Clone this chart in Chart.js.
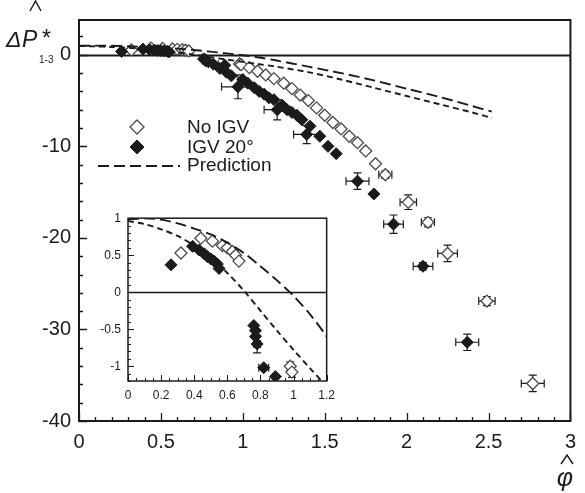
<!DOCTYPE html>
<html>
<head>
<meta charset="utf-8">
<script src="https://cdn.jsdelivr.net/npm/chart.js@4.4.0/dist/chart.umd.min.js"></script>
<style>
  html, body { margin: 0; padding: 0; background: #fff; }
  #wrap { position: relative; width: 585px; height: 493px; }
  #main { position: absolute; left: 0; top: 0; }
  #inset { position: absolute; left: 96px; top: 204px; }
</style>
</head>
<body>
<div id="wrap">
  <canvas id="main" width="585" height="493"></canvas>
  <canvas id="inset" width="246" height="200"></canvas>
</div>
<script>
// No IGV (open diamonds)
const noIgvX = [0.32, 0.44, 0.51, 0.57, 0.60, 0.63, 0.65, 0.67, 0.98, 0.99, 1.04, 1.09, 1.14, 1.19, 1.25, 1.30,
    1.35, 1.40, 1.45, 1.50, 1.55, 1.60, 1.65, 1.70, 1.75, 1.81, 1.87, 2.01, 2.13, 2.25, 2.49, 2.77];
const noIgvY = [0.53, 0.73, 0.69, 0.63, 0.60, 0.55, 0.50, 0.42, -1.00, -1.08, -1.4, -1.8, -2.2, -2.6, -3.1, -3.7,
    -4.4, -5.0, -5.8, -6.6, -7.4, -8.1, -8.9, -9.6, -10.5, -11.9, -13.1, -16.1, -18.3, -21.7, -26.9, -35.9];
const noIgvXErr = [0, 0, 0, 0, 0, 0, 0, 0, 0, 0, 0, 0, 0, 0, 0, 0,
    0, 0, 0, 0, 0, 0, 0, 0, 0, 0, 0.04, 0.05, 0.04, 0.06, 0.05, 0.07];
const noIgvYErr = [0, 0, 0, 0, 0, 0, 0, 0, 0.06, 0.07, 0, 0, 0, 0, 0, 0,
    0, 0, 0, 0, 0, 0, 0, 0, 0, 0, 0.4, 0.8, 0.5, 0.9, 0.5, 0.9];

// IGV 20° (filled diamonds)
const igvX = [0.26, 0.39, 0.43, 0.46, 0.48, 0.50, 0.52, 0.54, 0.55, 0.76, 0.77, 0.77, 0.78, 0.82, 0.89,
    0.86, 0.90, 0.93, 0.97, 1.00, 1.03, 1.07, 1.10, 1.13, 1.16, 1.19, 1.21, 1.24, 1.27, 1.30, 1.33, 1.36,
    1.39, 1.41, 1.47, 1.52, 1.57, 1.70, 1.80, 1.92, 2.10, 2.37];
const igvY = [0.37, 0.62, 0.57, 0.52, 0.48, 0.45, 0.42, 0.38, 0.32, -0.45, -0.52, -0.60, -0.70, -1.02, -1.14,
    -1.5, -1.9, -2.3, -3.5, -2.7, -3.1, -3.6, -4.0, -4.3, -4.7, -4.9, -6.0, -5.5, -6.0, -6.3, -6.6, -7.1,
    -8.7, -7.8, -8.9, -10.0, -10.8, -13.8, -15.2, -18.5, -23.1, -31.4];
const igvXErr = [0, 0, 0, 0, 0, 0, 0, 0, 0, 0, 0, 0, 0.02, 0.03, 0,
    0, 0, 0, 0.10, 0, 0, 0, 0, 0, 0, 0, 0.08, 0, 0, 0, 0, 0,
    0.08, 0, 0, 0, 0, 0.07, 0, 0.06, 0.06, 0.07];
const igvYErr = [0, 0, 0, 0, 0, 0, 0, 0, 0, 0, 0, 0, 0.12, 0, 0,
    0, 0, 0, 1.3, 0, 0, 0, 0, 0, 0, 0, 1.1, 0, 0, 0, 0, 0,
    1.0, 0, 0, 0, 0, 0.9, 0, 1.0, 0.4, 0.9];

// prediction curves
const predX = [0, 0.1, 0.2, 0.3, 0.4, 0.5, 0.6, 0.7, 0.8, 0.9, 1.0, 1.1, 1.2, 1.4, 1.6, 1.8, 2.0, 2.2, 2.4, 2.52];
const predLongY = [0.98, 1.0, 0.98, 0.93, 0.86, 0.78, 0.67, 0.53, 0.35, 0.16, -0.05, -0.3, -0.6,
    -1.3, -2.0, -2.8, -3.7, -4.6, -5.6, -6.2];
const predShortY = [0.96, 0.92, 0.85, 0.76, 0.63, 0.47, 0.26, 0.02, -0.25, -0.52, -0.78, -1.03, -1.28,
    -1.9, -2.7, -3.6, -4.5, -5.4, -6.3, -6.9];

const mainXTicks = [0, 0.5, 1, 1.5, 2, 2.5, 3];
const mainYTicks = [0, -10, -20, -30, -40];
const insetXTicks = [0, 0.2, 0.4, 0.6, 0.8, 1, 1.2];
const insetYTicks = [1, 0.5, 0, -0.5, -1];

const INK = '#1b1b1b';
const FONT = '"Liberation Sans", Arial, sans-serif';

const toPoints = (xs, ys) => xs.map((x, i) => ({ x, y: ys[i] }));

function buildDatasets(radius) {
    return [
        {
            label: 'Prediction',
            type: 'line',
            data: toPoints(predX, predLongY),
            borderColor: INK,
            borderWidth: 1.9,
            borderDash: [11, 5],
            pointRadius: 0,
            tension: 0.3,
        },
        {
            label: 'Prediction',
            type: 'line',
            data: toPoints(predX, predShortY),
            borderColor: INK,
            borderWidth: 1.9,
            borderDash: [6, 4],
            pointRadius: 0,
            tension: 0.3,
        },
        {
            label: 'IGV 20°',
            data: toPoints(igvX, igvY),
            xErr: igvXErr,
            yErr: igvYErr,
            pointStyle: 'rectRot',
            pointRadius: radius,
            backgroundColor: INK,
            borderColor: INK,
            borderWidth: 1,
        },
        {
            label: 'No IGV',
            data: toPoints(noIgvX, noIgvY),
            xErr: noIgvXErr,
            yErr: noIgvYErr,
            pointStyle: 'rectRot',
            pointRadius: radius,
            backgroundColor: '#fff',
            borderColor: '#4a4a4a',
            borderWidth: 1.3,
        },
    ];
}

function stepsBetween(min, max, step) {
    const out = [];
    const first = Math.ceil(min / step - 1e-9);
    const last = Math.floor(max / step + 1e-9);
    for (let k = first; k <= last; k++) out.push(k * step);
    return out;
}

const isOn = (list, v) => list.some(t => Math.abs(t - v) < 1e-6);

// error bars with caps, under the markers
const errorBars = {
    id: 'errorBars',
    beforeDatasetsDraw(chart) {
        const { ctx, chartArea: a, scales: { x, y } } = chart;
        ctx.save();
        ctx.beginPath();
        ctx.rect(a.left, a.top, a.width, a.height);
        ctx.clip();
        ctx.strokeStyle = INK;
        ctx.lineWidth = 1.2;
        chart.data.datasets.forEach(ds => {
            if (!ds.xErr) return;
            ds.data.forEach((p, i) => {
                const cx = x.getPixelForValue(p.x);
                const cy = y.getPixelForValue(p.y);
                const ex = ds.xErr[i];
                const ey = ds.yErr[i];
                ctx.beginPath();
                if (ex) {
                    const l = x.getPixelForValue(p.x - ex);
                    const r = x.getPixelForValue(p.x + ex);
                    ctx.moveTo(l, cy); ctx.lineTo(r, cy);
                    ctx.moveTo(l, cy - 4); ctx.lineTo(l, cy + 4);
                    ctx.moveTo(r, cy - 4); ctx.lineTo(r, cy + 4);
                }
                if (ey) {
                    const t = y.getPixelForValue(p.y + ey);
                    const b = y.getPixelForValue(p.y - ey);
                    ctx.moveTo(cx, t); ctx.lineTo(cx, b);
                    ctx.moveTo(cx - 4, t); ctx.lineTo(cx + 4, t);
                    ctx.moveTo(cx - 4, b); ctx.lineTo(cx + 4, b);
                }
                ctx.stroke();
            });
        });
        ctx.restore();
    },
};

// box, zero line and inward ticks
const frame = {
    id: 'frame',
    beforeDraw(chart, args, opts) {
        if (!opts.fill) return;
        const { ctx, width, height } = chart;
        ctx.save();
        ctx.fillStyle = opts.fill;
        ctx.fillRect(0, 0, width, height);
        ctx.restore();
    },
    beforeDatasetsDraw(chart, args, opts) {
        const { ctx, chartArea: a, scales: { y } } = chart;
        const y0 = Math.round(y.getPixelForValue(0)) + 0.5;
        ctx.save();
        ctx.strokeStyle = INK;
        ctx.lineWidth = opts.zeroWidth;
        ctx.beginPath();
        ctx.moveTo(a.left, y0);
        ctx.lineTo(a.right, y0);
        ctx.stroke();
        ctx.restore();
    },
    afterDatasetsDraw(chart, args, opts) {
        const { ctx, chartArea: a, scales: { x, y } } = chart;
        ctx.save();
        ctx.strokeStyle = INK;
        ctx.lineWidth = opts.tickWidth;
        ctx.beginPath();
        stepsBetween(x.min, x.max, opts.xMinor).forEach(v => {
            const px = Math.round(x.getPixelForValue(v)) + 0.5;
            const len = isOn(opts.xMajor, v) ? opts.major : opts.minor;
            ctx.moveTo(px, a.bottom);
            ctx.lineTo(px, a.bottom - len);
        });
        stepsBetween(y.min, y.max, opts.yMinor).forEach(v => {
            const py = Math.round(y.getPixelForValue(v)) + 0.5;
            const len = isOn(opts.yMajor, v) ? opts.major : opts.minor;
            ctx.moveTo(a.left, py);
            ctx.lineTo(a.left + len, py);
        });
        ctx.stroke();
        ctx.lineWidth = opts.boxWidth;
        ctx.strokeRect(a.left, a.top, a.right - a.left, a.bottom - a.top);
        ctx.restore();
    },
};

function hat(ctx, cx, top, half, h) {
    ctx.beginPath();
    ctx.moveTo(cx - half, top + h);
    ctx.lineTo(cx, top);
    ctx.lineTo(cx + half, top + h);
    ctx.stroke();
}

// axis titles and the legend box
const annotations = {
    id: 'annotations',
    afterDraw(chart) {
        const { ctx } = chart;
        const sets = chart.data.datasets;
        ctx.save();
        ctx.fillStyle = INK;
        ctx.strokeStyle = INK;
        ctx.lineWidth = 1.4;
        ctx.textBaseline = 'alphabetic';

        ctx.font = `italic 23px ${FONT}`;
        ctx.fillText('Δ', 6, 47);
        ctx.fillText('P', 22, 47);
        ctx.font = `23px ${FONT}`;
        ctx.fillText('*', 42, 46);
        ctx.font = `10px ${FONT}`;
        ctx.fillText('1-3', 39, 63);
        hat(ctx, 35.5, 1, 5.5, 10);

        ctx.font = `italic 25px ${FONT}`;
        ctx.textAlign = 'center';
        ctx.fillText('φ', 565, 486);
        hat(ctx, 567, 455, 6, 9);

        // legend
        ctx.textAlign = 'left';
        ctx.textBaseline = 'middle';
        ctx.font = `19px ${FONT}`;
        const rows = [
            { ds: sets[3], y: 127 },
            { ds: sets[2], y: 147 },
        ];
        rows.forEach(r => {
            const cx = 137;
            const s = 7;
            ctx.beginPath();
            ctx.moveTo(cx, r.y - s);
            ctx.lineTo(cx + s, r.y);
            ctx.lineTo(cx, r.y + s);
            ctx.lineTo(cx - s, r.y);
            ctx.closePath();
            ctx.fillStyle = r.ds.backgroundColor;
            ctx.fill();
            ctx.strokeStyle = r.ds.borderColor;
            ctx.lineWidth = r.ds.borderWidth;
            ctx.stroke();
            ctx.fillStyle = INK;
            ctx.fillText(r.ds.label, 187, r.y + 1);
        });
        ctx.strokeStyle = INK;
        ctx.lineWidth = 1.9;
        ctx.setLineDash([11, 5]);
        ctx.beginPath();
        ctx.moveTo(98, 166);
        ctx.lineTo(180, 166);
        ctx.stroke();
        ctx.setLineDash([]);
        ctx.fillText(sets[0].label, 187, 166);
        ctx.restore();
    },
};

function axis(min, max, tickList, size, padding, fit) {
    return {
        type: 'linear',
        min,
        max,
        grid: { display: false, drawTicks: false },
        border: { display: false },
        ticks: {
            color: INK,
            font: { family: FONT, size },
            padding,
            callback: v => String(v),
        },
        afterBuildTicks: s => { s.ticks = tickList.map(value => ({ value })); },
        afterFit: fit,
    };
}

const common = {
    responsive: false,
    animation: false,
    devicePixelRatio: 1,
    events: [],
    plugins: { legend: { display: false }, tooltip: { enabled: false } },
};

new Chart(document.getElementById('main'), {
    type: 'scatter',
    data: { datasets: buildDatasets(6) },
    plugins: [frame, errorBars, annotations],
    options: {
        ...common,
        layout: { padding: { top: 18, right: 7, left: 0, bottom: 0 } },
        scales: {
            x: axis(0, 3, mainXTicks, 20, 9, s => { s.height = 72; }),
            y: axis(-40, 3.8, mainYTicks, 20, 8, s => { s.width = 79; }),
        },
        plugins: {
            ...common.plugins,
            frame: {
                xMinor: 0.1, yMinor: 2, xMajor: mainXTicks, yMajor: mainYTicks,
                major: 8, minor: 4, tickWidth: 1.3, boxWidth: 2, zeroWidth: 1.8,
            },
        },
    },
});

new Chart(document.getElementById('inset'), {
    type: 'scatter',
    data: { datasets: buildDatasets(6) },
    plugins: [frame, errorBars],
    options: {
        ...common,
        layout: { padding: { top: 10, right: 6, left: 0, bottom: 0 } },
        scales: {
            x: axis(0, 1.2, insetXTicks, 12, 7, s => { s.height = 23; }),
            y: axis(-1.2, 1, insetYTicks, 12, 7, s => { s.width = 32; }),
        },
        plugins: {
            ...common.plugins,
            frame: {
                fill: '#fff', xMinor: 0.05, yMinor: 0.1, xMajor: insetXTicks, yMajor: insetYTicks,
                major: 6, minor: 3, tickWidth: 1, boxWidth: 1.5, zeroWidth: 1.5,
            },
        },
    },
});
</script>
</body>
</html>
